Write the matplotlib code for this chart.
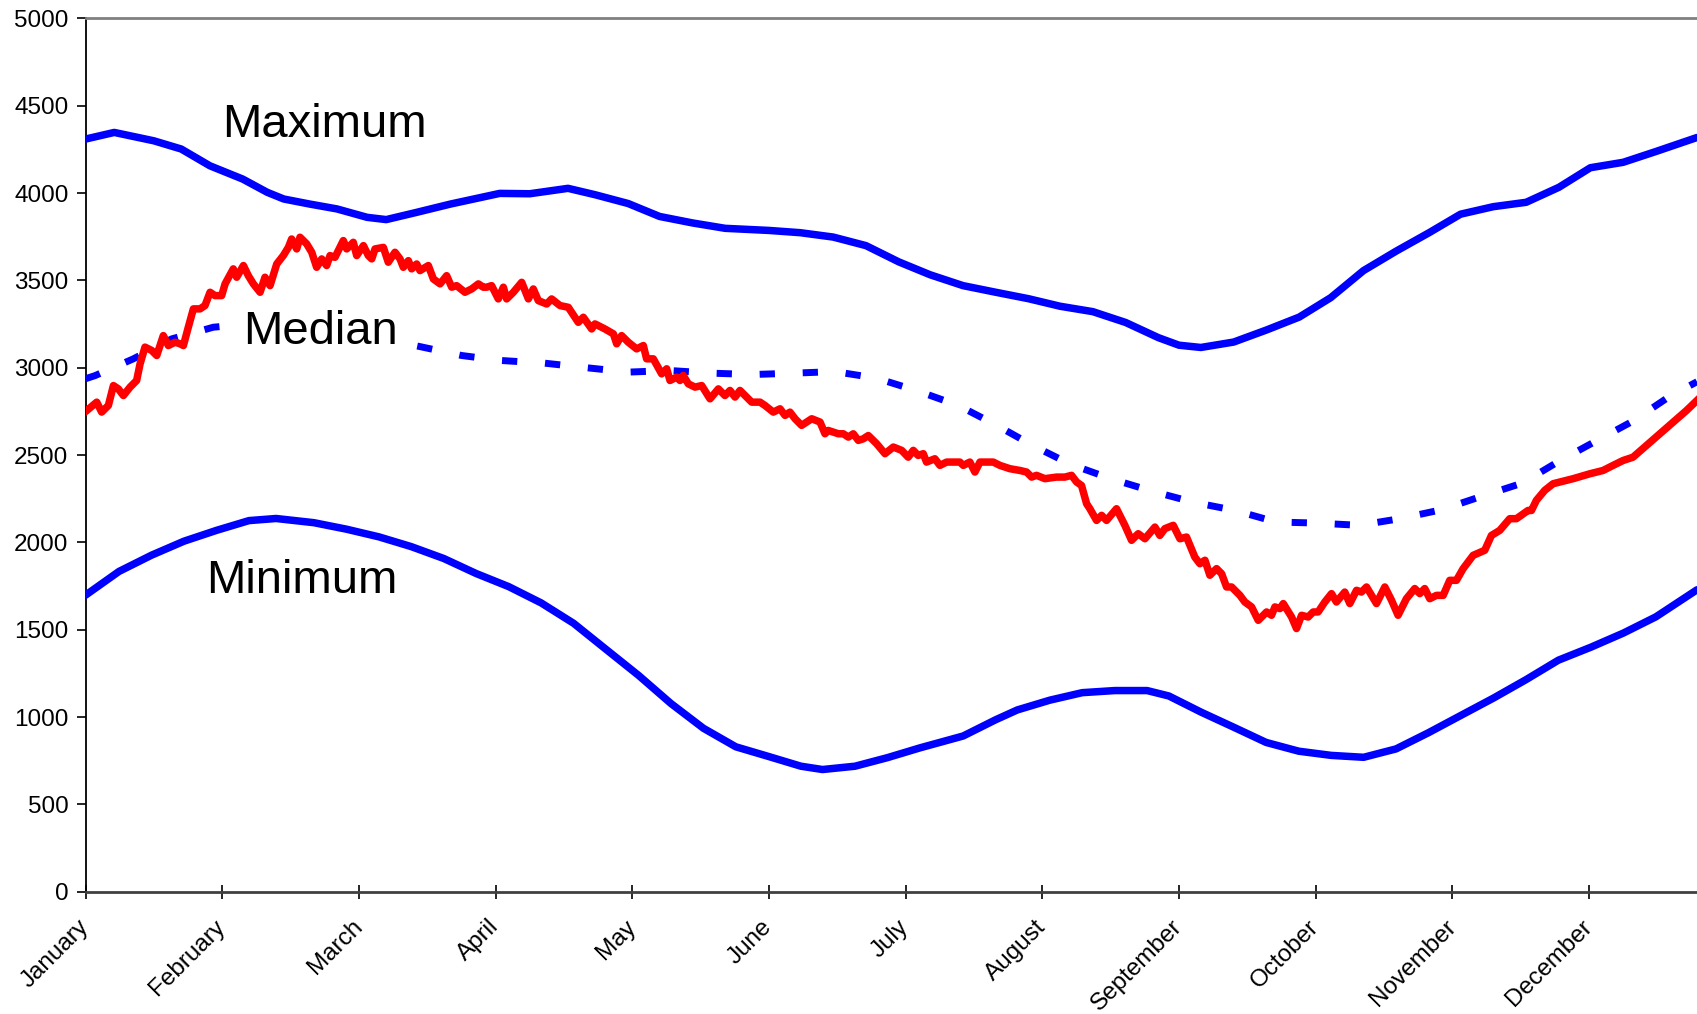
import matplotlib
matplotlib.use("Agg")
import matplotlib.pyplot as plt

plt.rcParams['font.family'] = ['Liberation Sans', 'DejaVu Sans']

# x positions are in months (0 = start of January)
months = ['January', 'February', 'March', 'April', 'May', 'June', 'July',
          'August', 'September', 'October', 'November', 'December']

max_x = [0, 0.21, 0.50, 0.70, 0.91, 1.15, 1.33, 1.45, 1.64, 1.84, 2.06, 2.20,
         2.42, 2.67, 3.03, 3.25, 3.53, 3.73, 3.97, 4.20, 4.44, 4.68, 5.00, 5.23,
         5.47, 5.71, 5.95, 6.18, 6.42, 6.66, 6.90, 7.13, 7.37, 7.61, 7.85, 8.00,
         8.16, 8.40, 8.64, 8.88, 9.11, 9.35, 9.59, 9.83, 10.06, 10.30, 10.54,
         10.78, 11.01, 11.25, 11.49, 11.79]
max_v = [4309, 4347, 4299, 4252, 4156, 4080, 4004, 3966, 3937, 3909, 3861, 3848,
         3889, 3937, 3998, 3996, 4027, 3990, 3940, 3866, 3829, 3798, 3786, 3773,
         3748, 3699, 3606, 3532, 3470, 3432, 3395, 3352, 3321, 3259, 3172, 3129,
         3116, 3147, 3216, 3290, 3401, 3556, 3668, 3773, 3879, 3922, 3947,
         4033, 4145, 4176, 4238, 4318]

min_x = [0, 0.245, 0.483, 0.72, 0.958, 1.196, 1.394, 1.671, 1.908, 2.146, 2.383,
         2.621, 2.858, 3.096, 3.333, 3.571, 3.808, 4.046, 4.283, 4.521, 4.758,
         4.996, 5.234, 5.392, 5.63, 5.867, 6.105, 6.421, 6.659, 6.817, 7.055,
         7.292, 7.53, 7.767, 7.926, 8.163, 8.401, 8.638, 8.876, 9.113, 9.351,
         9.588, 9.826, 10.063, 10.301, 10.538, 10.776, 11.013, 11.251, 11.489, 11.79]
min_v = [1698, 1834, 1927, 2007, 2069, 2125, 2137, 2113, 2076, 2032, 1976,
         1908, 1822, 1747, 1654, 1537, 1388, 1239, 1078, 936, 830,
         775, 719, 700, 719, 768, 824, 892, 985, 1041, 1097,
         1140, 1152, 1152, 1121, 1028, 942, 855, 805, 781, 770,
         818, 911, 1010, 1109, 1214, 1326, 1400, 1481, 1574, 1729]

med_x = [0, 0.07, 0.35, 0.63, 0.935, 1.196, 1.433, 1.671, 1.908, 2.146, 2.447,
         2.752, 3.03, 3.361, 3.666, 3.971, 4.276, 4.58, 4.878, 5.18, 5.483,
         5.788, 6.092, 6.385, 6.66, 6.93, 7.207, 7.5, 7.8, 8.10, 8.41, 8.71,
         9.0, 9.32, 9.616, 9.92, 10.218, 10.514, 10.78, 11.05, 11.32, 11.58, 11.79]
med_v = [2937, 2955, 3051, 3165, 3232, 3250, 3255, 3240, 3210, 3170, 3121,
         3070, 3042, 3026, 3000, 2975, 2984, 2969, 2961, 2969, 2978,
         2940, 2866, 2784, 2673, 2555, 2447, 2365, 2294, 2231, 2183, 2117,
         2111, 2098, 2136, 2187, 2265, 2340, 2465, 2580, 2694, 2831, 2920]

# current year (red)
cur_x = [0.009, 0.082, 0.118, 0.167, 0.204, 0.240, 0.277, 0.326, 0.374, 0.399,
         0.435, 0.484, 0.521, 0.569, 0.606, 0.655, 0.691, 0.716, 0.752, 0.789,
         0.838, 0.874, 0.911, 0.947, 0.996, 1.021, 1.081, 1.106, 1.155, 1.191,
         1.228, 1.277, 1.313, 1.350, 1.399, 1.447, 1.484, 1.508, 1.545, 1.569,
         1.618, 1.655, 1.691, 1.728, 1.764, 1.789, 1.825, 1.886, 1.911, 1.959,
         1.984, 2.033, 2.069, 2.094, 2.118, 2.179, 2.215, 2.264, 2.301, 2.325,
         2.362, 2.386, 2.423, 2.447, 2.508, 2.545, 2.594, 2.642, 2.679, 2.715,
         2.776, 2.825, 2.874, 2.910, 2.935, 2.971, 3.020, 3.057, 3.081, 3.130,
         3.191, 3.240, 3.276, 3.313, 3.374, 3.410, 3.471, 3.532, 3.605, 3.642,
         3.703, 3.727, 3.800, 3.862, 3.886, 3.922, 3.971, 4.032, 4.081, 4.105,
         4.154, 4.215, 4.252, 4.276, 4.325, 4.349, 4.373, 4.410, 4.459, 4.508,
         4.569, 4.630, 4.678, 4.715, 4.752, 4.788, 4.837, 4.874, 4.935, 4.971,
         5.032, 5.081, 5.118, 5.154, 5.191, 5.239, 5.313, 5.374, 5.410, 5.434,
         5.508, 5.544, 5.581, 5.617, 5.654, 5.690, 5.727, 5.788, 5.849, 5.910,
         5.971, 6.019, 6.056, 6.092, 6.129, 6.153, 6.214, 6.251, 6.300, 6.397,
         6.422, 6.470, 6.507, 6.544, 6.641, 6.690, 6.763, 6.836, 6.885, 6.922,
         6.958, 7.019, 7.104, 7.165, 7.214, 7.251, 7.287, 7.324, 7.348, 7.397,
         7.434, 7.470, 7.543, 7.604, 7.653, 7.702, 7.751, 7.824, 7.860, 7.897,
         7.958, 8.007, 8.055, 8.116, 8.153, 8.190, 8.226, 8.275, 8.312, 8.348,
         8.385, 8.446, 8.482, 8.531, 8.580, 8.641, 8.677, 8.702, 8.738, 8.763,
         8.824, 8.860, 8.897, 8.945, 8.982, 9.018, 9.067, 9.116, 9.152, 9.213,
         9.250, 9.299, 9.335, 9.372, 9.445, 9.506, 9.555, 9.603, 9.664, 9.725,
         9.762, 9.798, 9.835, 9.884, 9.933, 9.981, 10.030, 10.079, 10.152, 10.237,
         10.286, 10.347, 10.420, 10.469, 10.554, 10.579, 10.615, 10.676, 10.737, 10.884,
         11.006, 11.103, 11.176, 11.249, 11.322, 11.420, 11.518, 11.615, 11.713, 11.79]
cur_v = [2755, 2803, 2746, 2784, 2898, 2879, 2841, 2889, 2927, 3022,
         3118, 3099, 3070, 3184, 3127, 3146, 3137, 3127, 3232, 3337,
         3337, 3356, 3432, 3413, 3413, 3480, 3566, 3518, 3585, 3527,
         3480, 3432, 3518, 3470, 3594, 3642, 3689, 3737, 3680, 3747,
         3709, 3661, 3575, 3623, 3585, 3642, 3632, 3728, 3680, 3718,
         3642, 3699, 3642, 3623, 3680, 3689, 3604, 3661, 3623, 3575,
         3613, 3566, 3594, 3556, 3585, 3508, 3480, 3527, 3461, 3470,
         3432, 3451, 3480, 3461, 3461, 3470, 3394, 3461, 3394, 3432,
         3489, 3394, 3451, 3384, 3365, 3394, 3356, 3346, 3260, 3289,
         3222, 3251, 3222, 3194, 3137, 3184, 3146, 3108, 3127, 3051,
         3051, 2965, 2994, 2927, 2946, 2927, 2956, 2908, 2889, 2898,
         2822, 2879, 2841, 2870, 2832, 2870, 2832, 2803, 2803, 2784,
         2746, 2765, 2727, 2746, 2708, 2670, 2708, 2689, 2622, 2641,
         2622, 2622, 2603, 2622, 2584, 2593, 2612, 2565, 2508, 2546,
         2527, 2488, 2527, 2498, 2508, 2460, 2479, 2441, 2460, 2460,
         2441, 2460, 2403, 2460, 2460, 2441, 2422, 2412, 2403, 2374,
         2384, 2365, 2374, 2374, 2384, 2346, 2326, 2222, 2193, 2126,
         2155, 2126, 2193, 2098, 2012, 2050, 2021, 2088, 2040, 2079,
         2098, 2021, 2031, 1916, 1878, 1898, 1812, 1850, 1821, 1745,
         1745, 1697, 1659, 1631, 1554, 1602, 1583, 1631, 1621, 1650,
         1573, 1507, 1583, 1573, 1602, 1602, 1659, 1707, 1659, 1716,
         1650, 1726, 1716, 1745, 1650, 1745, 1669, 1583, 1678, 1736,
         1707, 1736, 1678, 1697, 1697, 1783, 1783, 1850, 1926, 1955,
         2040, 2069, 2136, 2136, 2183, 2183, 2241, 2298, 2336, 2365,
         2393, 2412, 2441, 2469, 2488, 2555, 2622, 2689, 2755, 2813]

fig = plt.figure(figsize=(16.97, 10.14), dpi=100)
ax = fig.add_axes([0.0504, 0.1205, 0.9496, 0.8614])

ax.plot(max_x, max_v, color='#0000FF', lw=5.4, solid_capstyle='round',
        solid_joinstyle='round', zorder=3)
ax.plot(min_x, min_v, color='#0000FF', lw=5.4, solid_capstyle='round',
        solid_joinstyle='round', zorder=3)
ax.plot(med_x, med_v, color='#0000FF', lw=5.0, dashes=(2.2, 4), dash_capstyle='butt', zorder=3)
ax.plot(cur_x, cur_v, color='#FF0000', lw=5.4, solid_joinstyle='round', zorder=4)

ax.text(0.996, 4318, 'Maximum', fontsize=34, ha='left', va='baseline', zorder=5)
ax.text(1.154, 3137, 'Median', fontsize=34, ha='left', va='baseline', zorder=5,
        bbox=dict(facecolor='white', edgecolor='none', pad=2))
ax.text(0.879, 1709, 'Minimum', fontsize=34, ha='left', va='baseline', zorder=5)

ax.set_xlim(0, 11.79)
ax.set_ylim(0, 5000)
ax.set_yticks(range(0, 5001, 500))
ax.set_xticks(range(12))
ax.set_xticklabels(months, rotation=45, ha='right', va='center', rotation_mode='anchor')

ax.tick_params(axis='y', direction='out', length=6.3, width=1.2, labelsize=17.5, pad=6)
ax.tick_params(axis='x', direction='inout', length=9.5, width=1.2, labelsize=17.5, pad=18)

ax.spines['right'].set_visible(False)
ax.spines['top'].set_color('#808080')
ax.spines['top'].set_linewidth(2)
ax.spines['left'].set_color('black')
ax.spines['left'].set_linewidth(1.3)
ax.spines['bottom'].set_color('#404040')
ax.spines['bottom'].set_linewidth(2)

plt.savefig('out.png', dpi=100)
